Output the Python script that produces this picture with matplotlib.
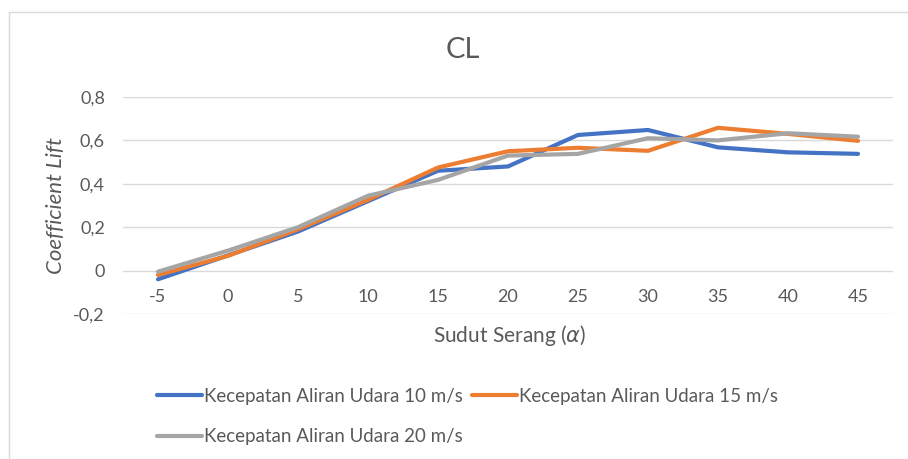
import matplotlib.pyplot as plt
from matplotlib.patches import Rectangle

plt.rcParams['font.family'] = ['Lato', 'DejaVu Sans']

sudut = ['-5', '0', '5', '10', '15', '20', '25', '30', '35', '40', '45']
cl_10 = [-0.04, 0.07, 0.18, 0.32, 0.46, 0.48, 0.625, 0.648, 0.568, 0.545, 0.538]
cl_15 = [-0.02, 0.068, 0.19, 0.326, 0.475, 0.55, 0.566, 0.552, 0.658, 0.63, 0.598]
cl_20 = [-0.005, 0.092, 0.2, 0.345, 0.418, 0.53, 0.538, 0.61, 0.60, 0.633, 0.617]
labels = ['Kecepatan Aliran Udara 10 m/s',
          'Kecepatan Aliran Udara 15 m/s',
          'Kecepatan Aliran Udara 20 m/s']
colors = ['#4472C4', '#ED7D31', '#A5A5A5']
yticks = [-0.2, 0, 0.2, 0.4, 0.6, 0.8]
yticklabels = ['-0,2', '0', '0,2', '0,4', '0,6', '0,8']

txt = '#595959'
W, H = 908, 459
fig = plt.figure(figsize=(W / 100, H / 100), dpi=100)
ax = fig.add_axes([123 / W, (H - 314) / H, 770 / W, 217 / H])

x = range(len(sudut))
lines = []
for ys, c, lab in zip([cl_10, cl_15, cl_20], colors, labels):
    ln, = ax.plot(x, ys, color=c, lw=3, label=lab, solid_capstyle='round')
    lines.append(ln)

ax.set_xlim(-0.5, len(sudut) - 0.5)
ax.set_ylim(-0.2, 0.8)
ax.set_yticks(yticks)
ax.set_yticklabels(yticklabels)
ax.set_xticks(list(x))
ax.set_xticklabels(sudut)
ax.grid(axis='y', color='#d9d9d9', lw=1)
ax.set_axisbelow(True)
for s in ax.spines.values():
    s.set_visible(False)
ax.spines['bottom'].set_position(('data', 0))
ax.tick_params(axis='x', length=0, pad=13, labelsize=13, colors=txt)
ax.tick_params(axis='y', length=0, pad=13, labelsize=13, colors=txt)

ax.set_ylabel('Coefficient Lift', fontsize=16, color=txt, style='italic', va='center')
ax.yaxis.set_label_coords(-0.087, 0.5)

fig.text(510 / W, 1 - 335 / H, r'Sudut Serang ($\alpha$)', ha='center', va='center',
         fontsize=15, color=txt)
fig.text(463 / W, 1 - 50 / H, 'CL', ha='center', va='center', fontsize=21, color=txt)

# row order: 10 / 15 on first row, 20 on second row
order = [0, 2, 1]
fig.legend(handles=[lines[i] for i in order], loc='upper left',
           bbox_to_anchor=(140 / W, 1 - 371 / H),
           ncol=2, frameon=False, fontsize=13.5, labelcolor=txt,
           handlelength=2.4, handletextpad=0.1, columnspacing=0.5, labelspacing=1.25)

fig.patches.append(Rectangle((9 / W, -0.1), 1.2, 1 - 12 / H + 0.1, transform=fig.transFigure,
                             fill=False, edgecolor='#d9d9d9', lw=1))

fig.savefig('out.png', dpi=100)
